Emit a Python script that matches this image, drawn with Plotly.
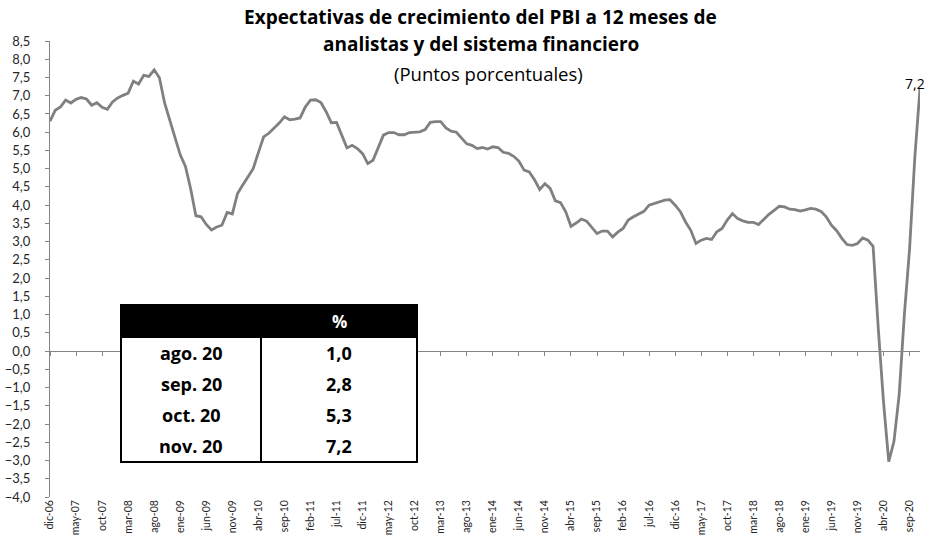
import plotly.graph_objects as go

# ---------------- data ----------------
start_year, start_month = 2006, 12
meses = ["ene", "feb", "mar", "abr", "may", "jun", "jul", "ago", "sep", "oct", "nov", "dic"]

expectativas = [
    6.30, 6.60, 6.69, 6.88, 6.80, 6.90, 6.95, 6.91, 6.74, 6.81, 6.68, 6.63,
    6.83, 6.94, 7.01, 7.07, 7.40, 7.32, 7.56, 7.53, 7.71, 7.49, 6.80, 6.35,
    5.85, 5.38, 5.06, 4.45, 3.71, 3.68, 3.47, 3.32, 3.40, 3.45, 3.80, 3.76,
    4.32, 4.55, 4.78, 5.00, 5.44, 5.87, 5.97, 6.11, 6.25, 6.42, 6.34, 6.36,
    6.39, 6.69, 6.88, 6.89, 6.81, 6.56, 6.26, 6.27, 5.92, 5.57, 5.64, 5.55,
    5.41, 5.14, 5.23, 5.60, 5.92, 5.99, 5.99, 5.93, 5.93, 5.99, 6.01, 6.01,
    6.07, 6.27, 6.29, 6.29, 6.12, 6.03, 6.00, 5.84, 5.68, 5.64, 5.55, 5.58,
    5.54, 5.60, 5.58, 5.45, 5.42, 5.34, 5.21, 4.96, 4.91, 4.70, 4.43, 4.59,
    4.46, 4.12, 4.07, 3.82, 3.42, 3.51, 3.62, 3.56, 3.40, 3.22, 3.29, 3.29,
    3.13, 3.26, 3.36, 3.59, 3.68, 3.75, 3.83, 4.00, 4.04, 4.08, 4.14, 4.15,
    4.00, 3.82, 3.54, 3.31, 2.95, 3.04, 3.09, 3.06, 3.27, 3.36, 3.59, 3.77,
    3.63, 3.57, 3.53, 3.53, 3.47, 3.61, 3.75, 3.86, 3.97, 3.95, 3.89, 3.88,
    3.84, 3.87, 3.91, 3.89, 3.83, 3.68, 3.45, 3.30, 3.09, 2.92, 2.90, 2.95,
    3.10, 3.04, 2.87, 0.60, -1.40, -3.03, -2.48, -1.20, 1.00, 2.80, 5.30, 7.20,
]

tick_labels = [
    "dic-06", "may-07", "oct-07", "mar-08", "ago-08", "ene-09", "jun-09", "nov-09",
    "abr-10", "sep-10", "feb-11", "jul-11", "dic-11", "may-12", "oct-12", "mar-13",
    "ago-13", "ene-14", "jun-14", "nov-14", "abr-15", "sep-15", "feb-16", "jul-16",
    "dic-16", "may-17", "oct-17", "mar-18", "ago-18", "ene-19", "jun-19", "nov-19",
    "abr-20", "sep-20",
]

tabla_meses = ["ago. 20", "sep. 20", "oct. 20", "nov. 20"]
tabla_valores = [1.0, 2.8, 5.3, 7.2]

titulo_1 = "Expectativas de crecimiento del PBI a 12 meses de"
titulo_2 = "analistas y del sistema financiero"
subtitulo = "(Puntos porcentuales)"

# month category labels
meses_lbl = []
for k in range(len(expectativas)):
    idx = (start_month - 1 + k)
    m = idx % 12
    yy = start_year + idx // 12
    meses_lbl.append(f"{meses[m]}-{yy % 100:02d}")

# ---------------- layout helpers ----------------
W, H = 925, 540
ML, MR, MT, MB = 50, 5, 41, 43
PW, PH = W - ML - MR, H - MT - MB


def px(xp):
    return (xp - ML) / PW


def py(yp):
    return (H - MB - yp) / PH


def fmt(v):
    return f"{v:.1f}".replace(".", ",")


FONT = "Lato"
TFONT = "Open Sans"
GRAY = "#858585"
ymin, ymax = -4.0, 8.5

fig = go.Figure()

fig.add_trace(go.Scatter(
    x=meses_lbl, y=expectativas, mode="lines",
    line=dict(color="#808080", width=2.8),
    xaxis="x", yaxis="y", showlegend=False, hoverinfo="x+y",
))
# helper trace carrying bottom tick labels
fig.add_trace(go.Scatter(
    x=meses_lbl, y=expectativas, mode="lines",
    line=dict(color="rgba(0,0,0,0)", width=0),
    xaxis="x2", yaxis="y", showlegend=False, hoverinfo="skip",
))

fig.add_annotation(
    x=meses_lbl[-1], y=expectativas[-1], xref="x", yref="y",
    text=fmt(expectativas[-1]), showarrow=False,
    xanchor="center", yanchor="bottom", xshift=-5, yshift=-7,
    font=dict(family=TFONT, size=14, color="#000000"),
)

zero_pos = (0 - ymin) / (ymax - ymin)

fig.update_layout(
    width=W, height=H,
    margin=dict(l=ML, r=MR, t=MT, b=MB, autoexpand=False),
    paper_bgcolor="white", plot_bgcolor="white",
    separators=",.",
    font=dict(family=FONT, color="#262626"),
    xaxis=dict(
        type="category", categoryorder="array", categoryarray=meses_lbl,
        range=[0, len(meses_lbl) - 1],
        anchor="free", position=zero_pos,
        showline=True, linecolor=GRAY, linewidth=1.2,
        ticks="outside", ticklen=4, tickcolor=GRAY, tickwidth=1,
        tickvals=tick_labels, showticklabels=False,
        showgrid=False, zeroline=False,
    ),
    xaxis2=dict(
        type="category", categoryorder="array", categoryarray=meses_lbl,
        range=[0, len(meses_lbl) - 1],
        overlaying="x", anchor="y", side="bottom",
        showline=False, ticks="",
        tickvals=tick_labels, ticktext=tick_labels, tickangle=-90,
        tickfont=dict(family=FONT, size=10.5, color="#262626"),
        showgrid=False, zeroline=False, automargin=False,
    ),
    yaxis=dict(
        range=[ymin, ymax], dtick=0.5, tick0=0, tickformat=".1f",
        showline=True, linecolor=GRAY, linewidth=1.2,
        ticks="outside", ticklen=4, tickcolor=GRAY,
        ticklabelstandoff=12,
        tickfont=dict(family=FONT, size=13, color="#262626"),
        showgrid=False, zeroline=False, automargin=False,
    ),
)

# title
fig.add_annotation(x=px(480), y=py(17), xref="paper", yref="paper", text=f"<b>{titulo_1}</b>",
                   showarrow=False, xanchor="center", yanchor="middle",
                   font=dict(family=TFONT, size=19, color="#000000"))
fig.add_annotation(x=px(481), y=py(44), xref="paper", yref="paper", text=f"<b>{titulo_2}</b>",
                   showarrow=False, xanchor="center", yanchor="middle",
                   font=dict(family=TFONT, size=19, color="#000000"))
fig.add_annotation(x=px(488), y=py(73), xref="paper", yref="paper", text=subtitulo,
                   showarrow=False, xanchor="center", yanchor="middle",
                   font=dict(family=TFONT, size=18.5, color="#000000"))

# inset table
tx0, tx1, tdiv = 121, 417, 261
ty0, thead, ty1 = 305, 337, 462
fig.add_shape(type="rect", xref="paper", yref="paper",
              x0=px(tx0), x1=px(tx1), y0=py(ty1), y1=py(ty0),
              fillcolor="white", line=dict(color="black", width=2))
fig.add_shape(type="rect", xref="paper", yref="paper",
              x0=px(tx0), x1=px(tx1), y0=py(thead), y1=py(ty0),
              fillcolor="black", line=dict(color="black", width=2))
fig.add_shape(type="line", xref="paper", yref="paper",
              x0=px(tdiv), x1=px(tdiv), y0=py(ty1), y1=py(thead),
              line=dict(color="black", width=2))
fig.add_annotation(x=px((tdiv + tx1) / 2), y=py((ty0 + thead) / 2), xref="paper", yref="paper",
                   text="<b>%</b>", showarrow=False, xanchor="center", yanchor="middle",
                   font=dict(family=TFONT, size=17, color="white"))
row_h = (ty1 - thead) / len(tabla_meses)
for r, (lab, val) in enumerate(zip(tabla_meses, tabla_valores)):
    yc = thead + row_h * (r + 0.5)
    fig.add_annotation(x=px((tx0 + tdiv) / 2), y=py(yc), xref="paper", yref="paper",
                       text=f"<b>{lab}</b>", showarrow=False, xanchor="center", yanchor="middle",
                       font=dict(family=TFONT, size=18, color="#000000"))
    fig.add_annotation(x=px((tdiv + tx1) / 2), y=py(yc), xref="paper", yref="paper",
                       text=f"<b>{fmt(val)}</b>", showarrow=False, xanchor="center", yanchor="middle",
                       font=dict(family=TFONT, size=18, color="#000000"))

fig.write_html("out.html", config={"displayModeBar": False},
               post_script="document.body.style.margin='0px';")
